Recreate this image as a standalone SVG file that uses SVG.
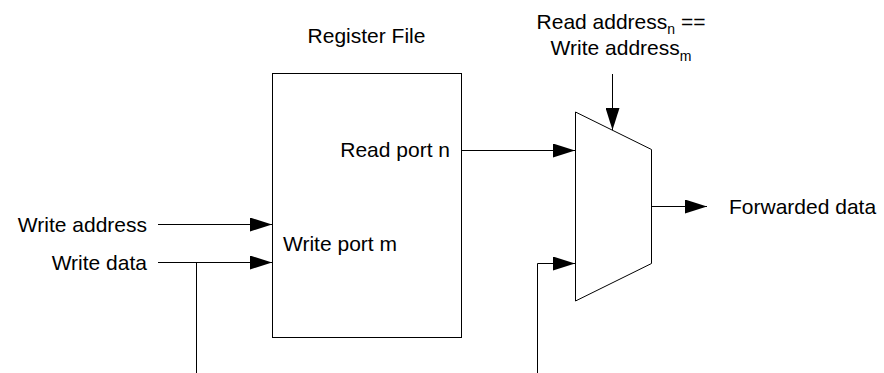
<svg xmlns="http://www.w3.org/2000/svg" width="884" height="373" viewBox="0 0 884 373">
  <style>
    text { font-family: "Liberation Sans", Arial, sans-serif; font-size: 21px; fill: #000; }
    .sub { font-size: 14px; }
    .shape { fill: #fff; stroke: #000; stroke-width: 1; }
    .wire { fill: none; stroke: #000; stroke-width: 1; }
    .arrow { marker-end: url(#ah); }
  </style>
  <defs>
    <marker id="ah" markerUnits="userSpaceOnUse" markerWidth="22" markerHeight="14" refX="22" refY="7" orient="auto">
      <path d="M0,0 L22,7 L0,14 Z" fill="#000"/>
    </marker>
  </defs>
  <rect width="884" height="373" fill="#fff"/>

  <g id="register-file">
    <rect class="shape" x="272.5" y="73.5" width="189" height="264"/>
    <text x="366.5" y="43" text-anchor="middle">Register File</text>
    <text x="450" y="157" text-anchor="end">Read port n</text>
    <text x="283" y="251">Write port m</text>
  </g>

  <g id="mux">
    <polygon class="shape" points="575.5,112 651.5,149.5 651.5,263.5 575.5,301"/>
  </g>

  <g id="select-label">
    <text x="621" y="29" text-anchor="middle">Read address<tspan class="sub" dy="5">n</tspan><tspan dy="-5"> ==</tspan></text>
    <text x="621" y="55" text-anchor="middle">Write address<tspan class="sub" dy="6">m</tspan></text>
  </g>

  <g id="write-address-label">
    <text x="147" y="232" text-anchor="end">Write address</text>
  </g>
  <g id="write-data-label">
    <text x="147" y="270" text-anchor="end">Write data</text>
  </g>
  <g id="forwarded-data-label">
    <text x="729" y="214">Forwarded data</text>
  </g>

  <g id="connectors">
    <line class="wire arrow" x1="158" y1="224.5" x2="272" y2="224.5"/>
    <line class="wire arrow" x1="158" y1="262.5" x2="272" y2="262.5"/>
    <line class="wire" x1="196.5" y1="262.5" x2="196.5" y2="373"/>
    <line class="wire arrow" x1="461.5" y1="150.5" x2="575" y2="150.5"/>
    <polyline class="wire arrow" points="537.5,373 537.5,263.5 575,263.5"/>
    <line class="wire arrow" x1="612.5" y1="74" x2="612.5" y2="130"/>
    <line class="wire arrow" x1="651.5" y1="206.5" x2="707" y2="206.5"/>
  </g>
</svg>
